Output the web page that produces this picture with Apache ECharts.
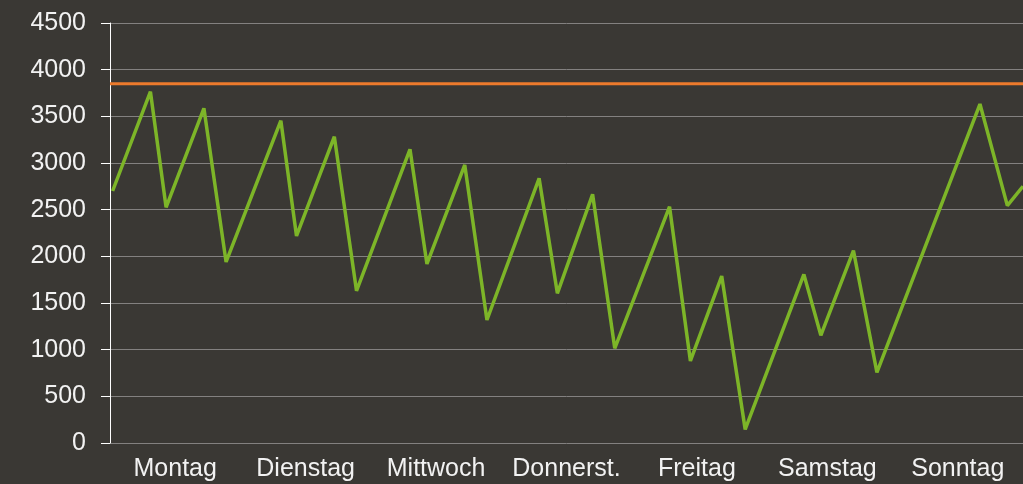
<!DOCTYPE html>
<html>
<head>
<meta charset="utf-8">
<script src="https://cdn.jsdelivr.net/npm/echarts@6/dist/echarts.min.js"></script>
<style>
  html, body { margin: 0; padding: 0; background: #3a3834; }
  #chart { width: 1023px; height: 484px; }
</style>
</head>
<body>
<div id="chart"></div>
<script>
// weekday labels on the category axis
const days = ['Montag', 'Dienstag', 'Mittwoch', 'Donnerst.', 'Freitag', 'Samstag', 'Sonntag'];
// time of each reading, in days since Monday 00:00
const times = [0.02, 0.31, 0.43, 0.72, 0.89, 1.31, 1.43, 1.72, 1.89, 2.30, 2.43, 2.72, 2.89,
  3.29, 3.43, 3.70, 3.87, 4.29, 4.45, 4.69, 4.87, 5.32, 5.45, 5.70, 5.88, 6.67, 6.88, 7.0];
const values = [2700, 3764, 2525, 3586, 1940, 3453, 2218, 3282, 1630, 3147, 1918, 2979, 1318,
  2836, 1604, 2664, 1014, 2532, 879, 1789, 146, 1807, 1154, 2061, 757, 3632, 2543, 2750];
// constant limit line
const limit = 3850;

const chart = echarts.init(document.getElementById('chart'));
const txt = { color: '#f2f2f2', fontFamily: 'Liberation Sans, Arial, sans-serif', fontSize: 25 };

chart.setOption({
  backgroundColor: '#3a3834',
  animation: false,
  grid: { left: 110, right: 0, top: 23, bottom: 41 },
  xAxis: [
    {
      type: 'category',
      data: days,
      boundaryGap: true,
      axisLine: { show: false },
      axisTick: { show: false },
      splitLine: { show: false },
      axisLabel: Object.assign({ margin: 14, interval: 0, hideOverlap: false }, txt)
    },
    {
      type: 'value',
      min: 0,
      max: 7,
      show: false
    }
  ],
  yAxis: {
    type: 'value',
    min: 0,
    max: 4500,
    interval: 500,
    axisLine: { show: true, lineStyle: { color: '#ffffff', width: 1 } },
    axisTick: { show: true, inside: false, length: 9, lineStyle: { color: '#ffffff', width: 1 } },
    splitLine: { show: true, lineStyle: { color: '#838180', width: 1 } },
    axisLabel: Object.assign({ margin: 24, formatter: v => String(v) }, txt)
  },
  series: [
    {
      type: 'line',
      xAxisIndex: 1,
      data: [[0, limit], [7, limit]],
      symbol: 'none',
      lineStyle: { color: '#ec7a2c', width: 3 }
    },
    {
      type: 'line',
      xAxisIndex: 1,
      data: times.map((t, i) => [t, values[i]]),
      symbol: 'none',
      lineStyle: { color: '#7db528', width: 3.5 }
    }
  ]
});
</script>
</body>
</html>
